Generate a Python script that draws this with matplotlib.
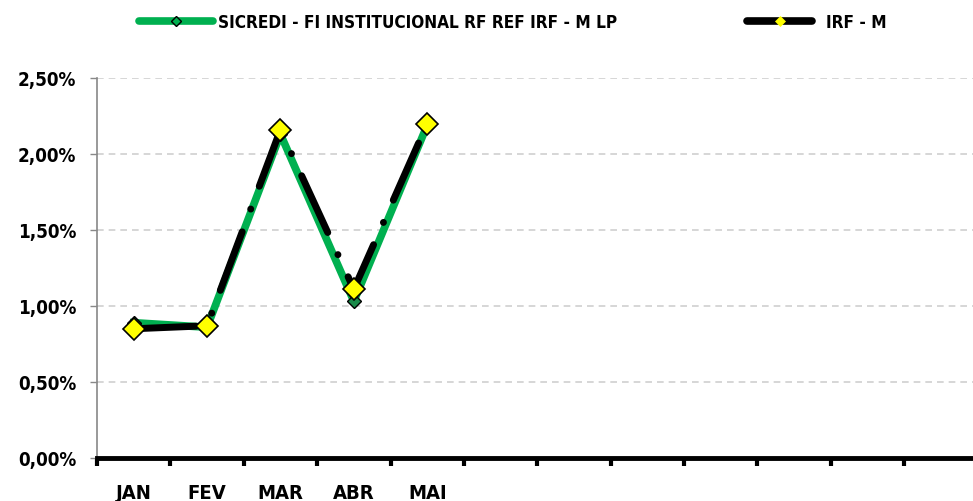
import matplotlib
matplotlib.use("Agg")
import matplotlib.pyplot as plt
from matplotlib.lines import Line2D
from matplotlib.ticker import FixedLocator, FuncFormatter
from matplotlib import font_manager

# ------------------------------------------------------------
# Data (monthly returns, %)
# ------------------------------------------------------------
months = ["JAN", "FEV", "MAR", "ABR", "MAI"]
n_slots = 12

sicredi = [0.89, 0.86, 2.13, 1.03, 2.19]
irfm = [0.85, 0.87, 2.16, 1.11, 2.20]

label_sicredi = "SICREDI - FI INSTITUCIONAL RF REF IRF - M LP"
label_irfm = "IRF - M"

yticks = [0.0, 0.5, 1.0, 1.5, 2.0, 2.5]

# ------------------------------------------------------------
# Font: condensed bold if available
# ------------------------------------------------------------
plt.rcParams["font.family"] = ["DejaVu Sans"]
plt.rcParams["font.weight"] = "bold"
fp = font_manager.FontProperties(family="DejaVu Sans", stretch="condensed",
                                 weight="bold")
if "Condensed" in font_manager.findfont(fp):
    plt.rcParams["font.stretch"] = "condensed"

# ------------------------------------------------------------
# Figure
# ------------------------------------------------------------
fig = plt.figure(figsize=(9.73, 5.02), dpi=100)
ax = fig.add_axes([0.0997, 0.0857, 0.905, 0.757])

xs = list(range(len(months)))

green = "#00b050"
ax.plot(xs, sicredi, color=green, lw=5.5, solid_joinstyle="round",
        marker="D", ms=7, mfc="#1a8a4a", mec="black", mew=1.0, zorder=3)
ax.plot(xs, irfm, color="black", lw=5.0,
        linestyle=(0, (9, 3.5, 0.01, 3.5)), dash_capstyle="round",
        marker="D", ms=11.5, mfc="#ffff00", mec="black", mew=1.2, zorder=4)

ax.set_xlim(-0.5, n_slots - 0.5)
ax.set_ylim(0, 2.5)

ax.yaxis.set_major_locator(FixedLocator(yticks))
ax.yaxis.set_major_formatter(
    FuncFormatter(lambda v, p: f"{v:.2f}".replace(".", ",") + "%"))
ax.grid(axis="y", color="#d0d0d0", lw=1.2, linestyle=(0, (4, 3)))
ax.set_axisbelow(True)

labels = months + [""] * (n_slots - len(months))
ax.set_xticks(range(n_slots))
ax.set_xticklabels(labels)
ax.set_xticks([i - 0.5 for i in range(n_slots + 1)], minor=True)
ax.tick_params(axis="x", which="major", length=0, pad=18, labelsize=14.5)
ax.tick_params(axis="x", which="minor", length=6, width=3, color="black",
               direction="out")
ax.tick_params(axis="y", length=5, width=1, color="#888888", labelsize=13.5,
               pad=10)

for s in ["top", "right"]:
    ax.spines[s].set_visible(False)
ax.spines["left"].set_color("#888888")
ax.spines["left"].set_linewidth(1.2)
ax.spines["bottom"].set_color("black")
ax.spines["bottom"].set_linewidth(3.5)
ax.spines["bottom"].set_zorder(5)

# legend: two entries placed separately
h1 = Line2D([], [], color=green, lw=5.5, solid_capstyle="round",
            marker="D", ms=5, mfc=green, mec="black", mew=1.0)
h2 = Line2D([], [], color="black", lw=5.5, solid_capstyle="round",
            marker="D", ms=5, mfc="#ffff00", mec="#ffff00", mew=0.5)
leg1 = fig.legend([h1], [label_sicredi], loc="center left",
                  bbox_to_anchor=(0.136, 0.955), frameon=False, fontsize=12.3,
                  handlelength=4.3, handletextpad=0.3, borderaxespad=0)
leg2 = fig.legend([h2], [label_irfm], loc="center left",
                  bbox_to_anchor=(0.761, 0.955), frameon=False, fontsize=12.3,
                  handlelength=3.8, handletextpad=0.8, borderaxespad=0)

fig.savefig("out.png", dpi=100)
